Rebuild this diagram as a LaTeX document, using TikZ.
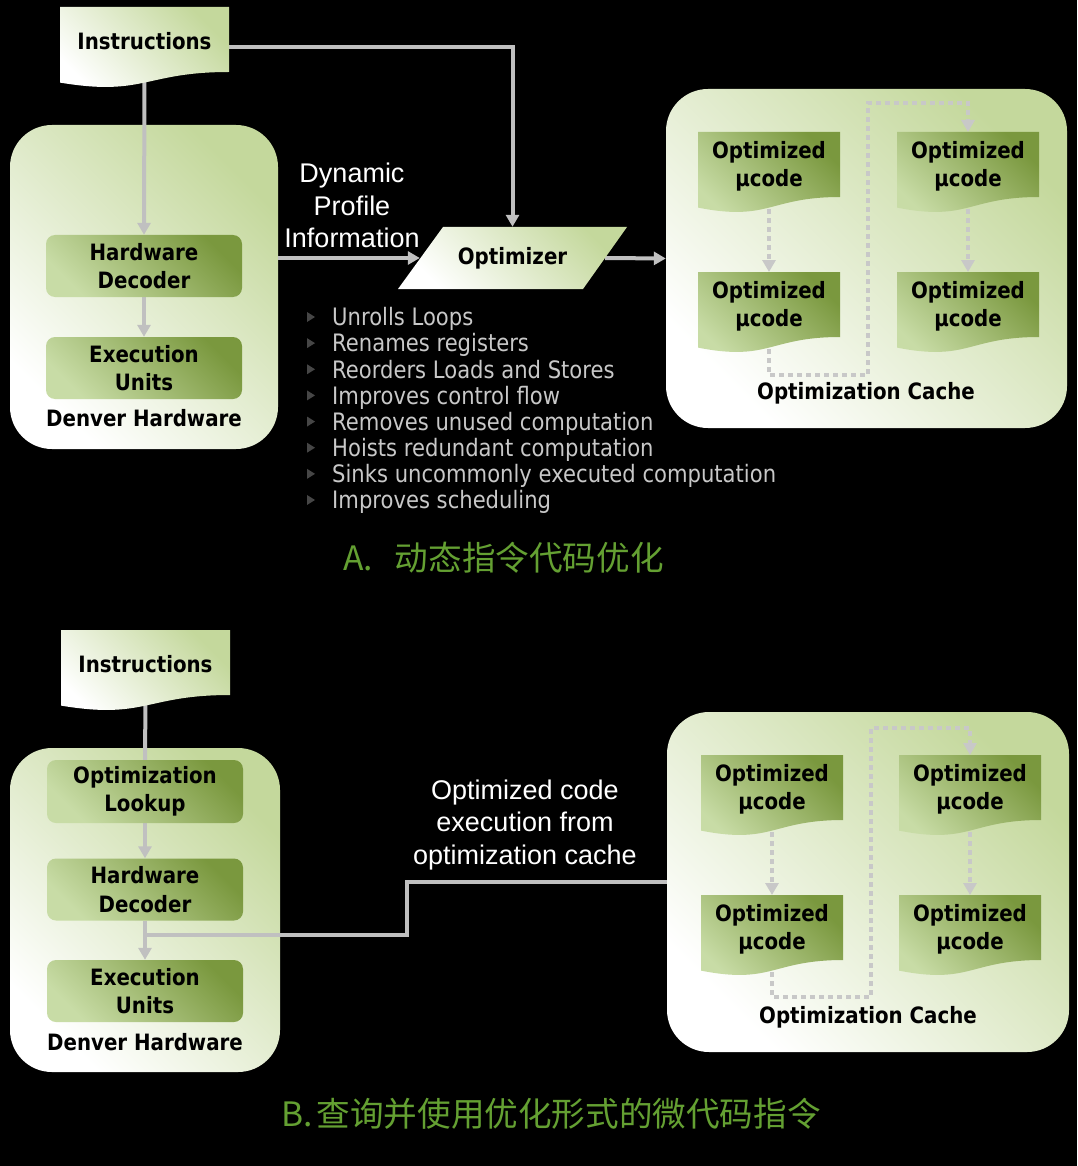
\documentclass[tikz,border=0pt]{standalone}
\usepackage{fontspec}
\usetikzlibrary{arrows.meta}
\newfontfamily\tahoma{DejaVu Sans}[FakeStretch=0.88]
\newfontfamily\arialf{Liberation Sans}
\newfontfamily\cjk{Noto Sans CJK SC}
\definecolor{bggreen}{RGB}{196,216,156}
\definecolor{boxdark}{RGB}{122,152,62}
\definecolor{boxlight}{RGB}{200,220,166}
\definecolor{wiregray}{RGB}{192,192,192}
\definecolor{dotgray}{RGB}{200,200,200}
\definecolor{listgray}{RGB}{200,200,200}
\definecolor{bulletgray}{RGB}{70,70,70}
\definecolor{titlegreen}{RGB}{100,160,50}
\pgfdeclarelayer{back}
\pgfdeclarelayer{wires}
\pgfsetlayers{back,wires,main}
\tikzstyle{container} = [rectangle, rounded corners=42pt, inner sep=0pt, top color=bggreen, bottom color=white, shading angle=-45]
\tikzstyle{unit} = [rectangle, rounded corners=9pt, inner sep=0pt, minimum width=196pt, minimum height=62pt, top color=boxdark, bottom color=boxlight, shading angle=-45, align=center, font=\tahoma\bfseries\fontsize{22.5}{28.5}\selectfont]
\tikzstyle{paper} = [top color=bggreen, bottom color=white, shading angle=-45]
\tikzstyle{ucode} = [top color=boxdark, bottom color=boxlight, shading angle=-45]
\tikzstyle{doctext} = [inner sep=0pt, align=center, font=\tahoma\bfseries\fontsize{22.5}{28.5}\selectfont]
\tikzstyle{caption} = [inner sep=0pt, font=\tahoma\bfseries\fontsize{22.5}{28.5}\selectfont]
\tikzstyle{note} = [inner sep=0pt, align=center, text=white, font=\arialf\fontsize{27}{32.5}\selectfont]
\tikzstyle{listitem} = [inner sep=0pt, text=listgray, font=\tahoma\fontsize{24}{26}\selectfont]
\tikzstyle{heading} = [inner sep=0pt, anchor=west, text=titlegreen, font=\cjk\fontsize{33.6}{33.6}\selectfont]
\tikzstyle{feed} = [draw=wiregray, line width=4pt]
\tikzstyle{wire} = [feed, -{Triangle[width=13pt,length=12pt]}]
\tikzstyle{dots} = [draw=dotgray, line width=4pt, dash pattern=on 5pt off 4pt, -{Triangle[width=13pt,length=12pt]}]
% paper sheet with a wavy lower edge, plus a named node on it
\newcommand{\docshape}[6]{%
  \shade[#5] (#2,#3) -- (#2+#4,#3) -- (#2+#4,#3+65) .. controls (#2+#4/2,#3+65) and (#2+#4/2,#3+89.7) .. (#2,#3+75.6) -- cycle;
  \node[doctext, minimum width=#4pt, minimum height=68pt, anchor=north] (#1) at (#2+#4/2,#3) {#6};
}

\begin{document}
\begin{tikzpicture}[x=1pt, y=-1pt]
\useasboundingbox (0,0) rectangle (1077,1166);
\begin{pgfonlayer}{back}
  \fill[black] (0,0) rectangle (1077,1166);
  \node[container, minimum width=268pt, minimum height=324pt] (denver) at (144,287) {};
  \node[container, minimum width=401pt, minimum height=339pt] (cache) at (866.5,258.5) {};
  \node[container, minimum width=270pt, minimum height=324pt] (denverB) at (145,910) {};
  \node[container, minimum width=402pt, minimum height=340pt] (cacheB) at (868,882) {};
\end{pgfonlayer}

% A: dynamic optimization
\docshape{instr}{60}{7}{169}{paper}{Instructions}
\node[unit] (dec) at (144,266) {Hardware\\Decoder};
\node[unit] (exec) at (144,368) {Execution\\Units};
\node[caption] (dlabel) at (144,418) {Denver Hardware};
\node[note] (profile) at (352,205.5) {Dynamic\\Profile\\Information};
\shade[paper] (443,227) -- (627,227) -- (583,289) -- (398,289) -- cycle;
\node[caption, minimum width=185pt, minimum height=62pt] (opt) at (512.5,258) {Optimizer};
\docshape{m1}{698}{132}{142}{ucode}{Optimized\\µcode}
\docshape{m2}{698}{272}{142}{ucode}{Optimized\\µcode}
\docshape{m3}{897}{132}{142}{ucode}{Optimized\\µcode}
\docshape{m4}{897}{272}{142}{ucode}{Optimized\\µcode}
\node[caption] (clabel) at (866,393) {Optimization Cache};

\foreach \txt [count=\i from 0] in {Unrolls Loops, Renames registers, Reorders Loads and Stores, Improves control flow, Removes unused computation, Hoists redundant computation, Sinks uncommonly executed computation, Improves scheduling} {
  \fill[bulletgray] (307,317+26.14*\i-5) -- ++(8,5) -- ++(-8,5) -- cycle;
  \node[listitem, anchor=base west] (item\i) at (332,317+26.14*\i+8.8) {\txt};
}
\node[heading] (titleA) at (343,558) {A.\hspace{22pt}动态指令代码优化};

% B: lookup in the optimization cache
\docshape{instrB}{61}{630}{169}{paper}{Instructions}
\node[unit, minimum height=63pt] (lookup) at (145,791.5) {Optimization\\Lookup};
\node[unit] (decB) at (145,889.5) {Hardware\\Decoder};
\node[unit] (execB) at (145,991) {Execution\\Units};
\node[caption] (dlabelB) at (145,1042) {Denver Hardware};
\node[note] (cached) at (525,825) {Optimized code\\execution from\\optimization cache};
\docshape{m5}{701}{755}{142}{ucode}{Optimized\\µcode}
\docshape{m6}{701}{895}{142}{ucode}{Optimized\\µcode}
\docshape{m7}{899}{755}{142}{ucode}{Optimized\\µcode}
\docshape{m8}{899}{895}{142}{ucode}{Optimized\\µcode}
\node[caption] (clabelB) at (868,1017) {Optimization Cache};
\node[heading] (titleB) at (281,1114) {B.\hspace{4pt}查询并使用优化形式的微代码指令};

\begin{pgfonlayer}{wires}
  \draw[wire] (instr.south) -- (dec.north);
  \draw[wire] (dec.south) -- (exec.north);
  \draw[wire] ([yshift=-6pt]instr.east) -| (opt.north);
  \draw[wire] (denver.east |- opt.west) -- (opt.west);
  \draw[wire] (opt.east) -- (cache.west);
  \draw[dots] (m1.south) -- (m2.north);
  \draw[dots] (m3.south) -- (m4.north);
  \coordinate (lp1) at (868,375);
  \coordinate (lp2) at (868,103);
  \draw[dots] (m2.south) |- (lp1) -- (lp2) -| (m3.north);

  \draw[feed] (instrB.south) -- (lookup.north);
  \draw[wire] (lookup.south) -- (decB.north);
  \draw[wire] (decB.south) -- (execB.north);
  \coordinate (tap) at (145,935);
  \coordinate (kink) at (407,908);
  \draw[feed] (cacheB.west) -| (kink) |- (tap);
  \draw[dots] (m5.south) -- (m6.north);
  \draw[dots] (m7.south) -- (m8.north);
  \coordinate (lp3) at (871,997);
  \coordinate (lp4) at (871,728);
  \draw[dots] (m6.south) |- (lp3) -- (lp4) -| (m7.north);
\end{pgfonlayer}
\end{tikzpicture}
\end{document}
